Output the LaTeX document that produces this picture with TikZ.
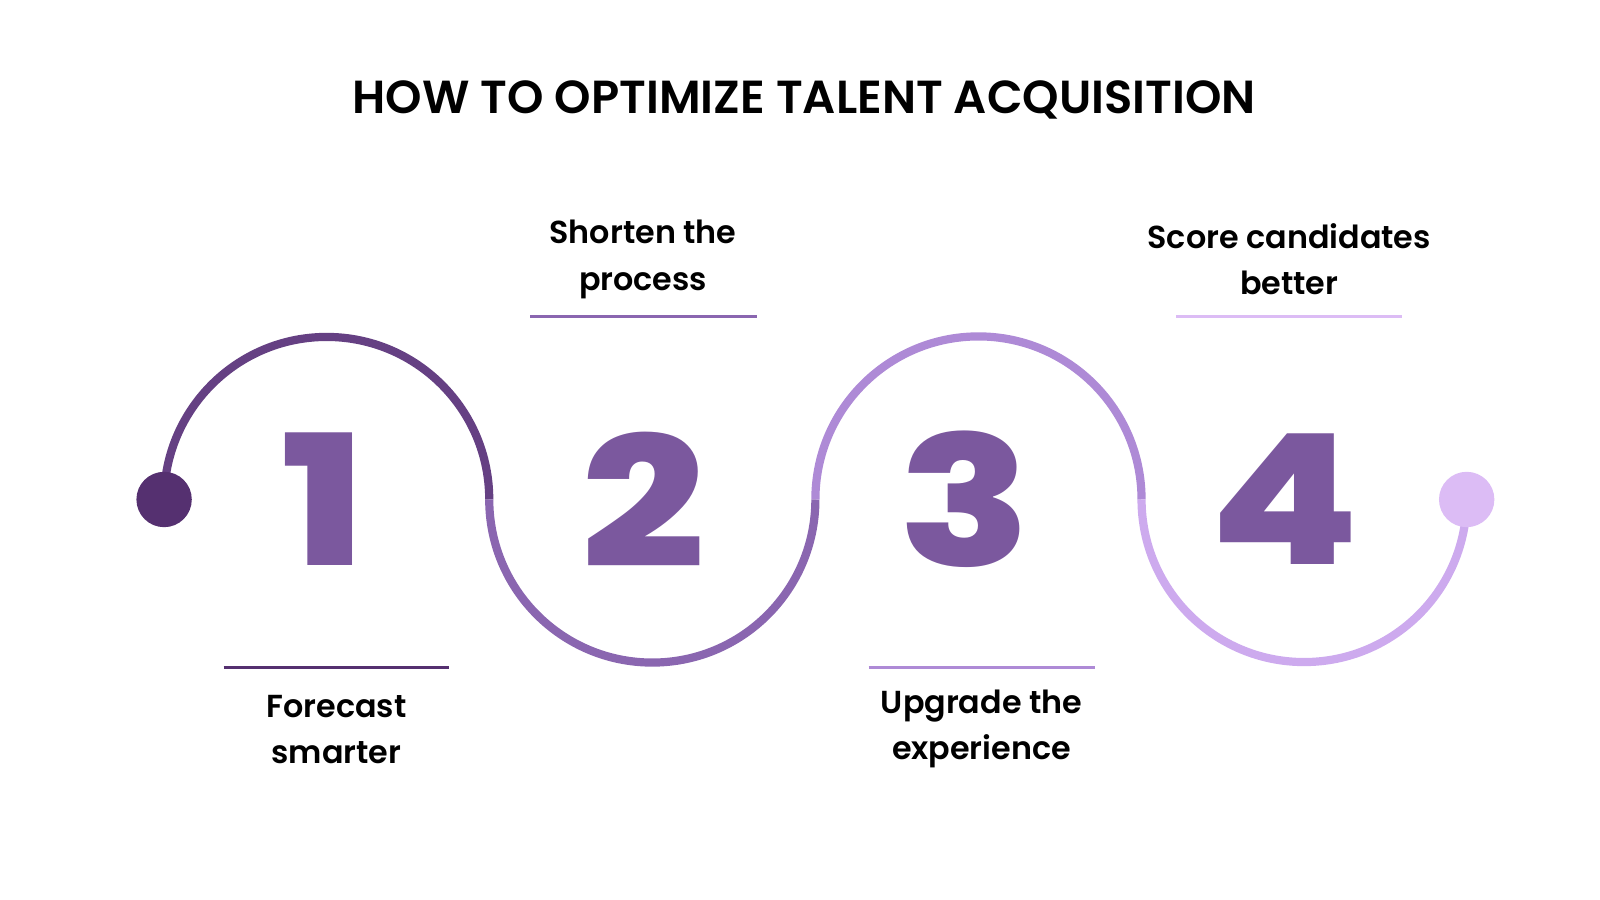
\documentclass[tikz,border=0pt]{standalone}
\usepackage{fontspec}
\usepackage{graphicx}
\setmainfont{Poppins}
\newfontfamily\popsb{Poppins}[UprightFont=* SemiBold]
\newfontfamily\popblk{Poppins}[UprightFont=* ExtraBold]
\definecolor{cA}{HTML}{553070}
\definecolor{cB}{HTML}{8A66B0}
\definecolor{cC}{HTML}{AE8AD6}
\definecolor{cD}{HTML}{CDAAEE}
\definecolor{cE}{HTML}{DCBCF5}
\definecolor{num}{HTML}{7B589E}
\newcommand{\wnum}[1]{\scalebox{1.2}[1]{#1}}
\begin{document}
\begin{tikzpicture}[x=1pt,y=-1pt,
  wave/.style={line width=8pt},
  lbl/.style={font=\popsb\fontsize{31}{45}\selectfont,align=center,text=black},
  bignum/.style={font=\popblk\fontsize{177}{177}\selectfont,text=num},
  rule/.style={line width=3pt}]
\useasboundingbox (0,0) rectangle (1560,877.5);
\node[font=\popsb\fontsize{45.2}{50}\selectfont] (title) at (784,97) {HOW TO OPTIMIZE TALENT ACQUISITION};
\coordinate (p0) at (160,487);
\coordinate (p1) at (477,487);
\coordinate (p2) at (795,487);
\coordinate (p3) at (1113,487);
\coordinate (p4) at (1430,487);
\draw[wave,cA!70!cB] (p0) arc[start angle=180,end angle=360,radius=158.5];
\draw[wave,cB] (p1) arc[start angle=180,end angle=0,radius=159];
\draw[wave,cC] (p2) arc[start angle=180,end angle=360,radius=159];
\draw[wave,cD] (p3) arc[start angle=180,end angle=0,radius=158.5];
\fill[cA] (p0) circle[radius=27];
\fill[cE] (p4) circle[radius=27];
\node[bignum] (n1) at (316,487) {\wnum{1}};
\node[bignum] (n2) at (627,487) {\wnum{2}};
\node[bignum] (n3) at (941,487) {\wnum{3}};
\node[bignum] (n4) at (1253,487) {\wnum{4}};
\draw[rule,cA] (218,651) -- (438,651);
\node[lbl] (l1) at (328,711) {Forecast\\smarter};
\draw[rule,cB] (517,309) -- (738,309);
\node[lbl] (l2) at (627,253) {Shorten the\\process};
\draw[rule,cC] (847,651) -- (1068,651);
\node[lbl] (l3) at (957,711) {Upgrade the\\experience};
\draw[rule,cE] (1147,309) -- (1367,309);
\node[lbl] (l4) at (1257,253) {Score candidates\\better};
\end{tikzpicture}
\end{document}
